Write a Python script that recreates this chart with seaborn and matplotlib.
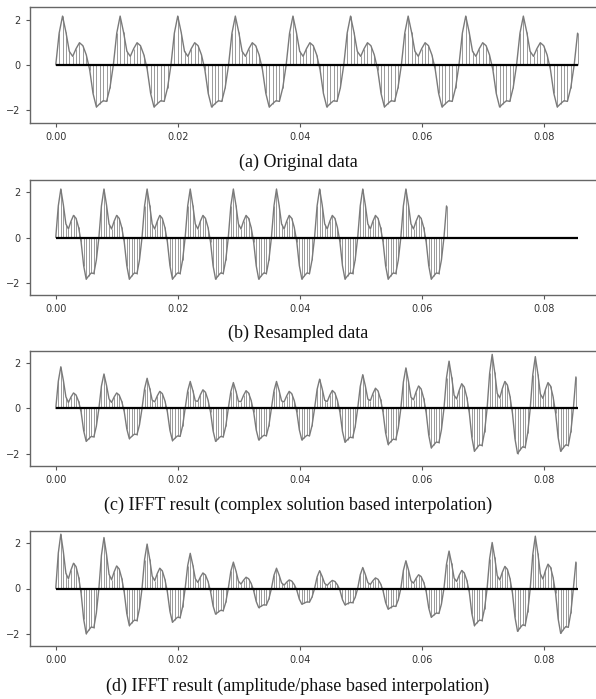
import numpy as np
import pandas as pd
import matplotlib
matplotlib.use("Agg")
import matplotlib.pyplot as plt
import seaborn as sns

# --- data ---
# one period of the original waveform, 17 samples
period_shape = [0.0, 1.4, 2.15, 1.45, 0.6, 0.38, 0.72, 0.98, 0.85, 0.45,
                -0.2, -1.25, -1.85, -1.7, -1.57, -1.6, -1.0]
# part of the period each sample belongs to: 0 main peak, 1 second bump, 2 trough
shape_part = [0, 0, 0, 0, 0, 1, 1, 1, 1, 1, 2, 2, 2, 2, 2, 2, 2]

n_orig = 155           # samples in original record
dt_orig = 0.000555     # s
dt_resampled = 0.0004156
n_ifft = 206           # samples after IFFT interpolation

# IFFT results, one value per period: main peak, second bump, trough minimum
c_peak = [1.85, 1.53, 1.34, 1.2, 1.15, 1.2, 1.3, 1.5, 1.8, 2.1, 2.4, 2.3, 2.15]
c_bump = [0.69, 0.69, 0.76, 0.83, 0.79, 0.76, 0.8, 0.9, 1.0, 1.1, 1.2, 1.15]
c_trough = [-1.46, -1.34, -1.43, -1.46, -1.40, -1.4, -1.5, -1.6, -1.75, -1.9, -2.0, -1.9]

d_peak = [2.41, 2.26, 1.97, 1.56, 1.17, 0.9, 0.79, 0.93, 1.23, 1.66, 2.04, 2.32, 1.8]
d_bump = [1.12, 1.0, 0.9, 0.69, 0.5, 0.38, 0.36, 0.47, 0.61, 0.8, 0.98, 1.08]
d_trough = [-2.01, -1.65, -1.5, -1.14, -0.85, -0.7, -0.73, -0.92, -1.28, -1.65, -1.9, -1.99]

captions = [
    "(a) Original data",
    "(b) Resampled data",
    "(c) IFFT result (complex solution based interpolation)",
    "(d) IFFT result (amplitude/phase based interpolation)",
]
xticks = [0.00, 0.02, 0.04, 0.06, 0.08]
yticks = [-2, 0, 2]


def build_signal(n, peak=None, bump=None, trough=None):
    ref = [max(period_shape), period_shape[7], min(period_shape)]
    vals = []
    for i in range(n):
        k, j = divmod(i, len(period_shape))
        part = shape_part[j]
        if peak is None:
            scale = 1.0
        else:
            scale = [peak, bump, trough][part][k] / ref[part]
        vals.append(period_shape[j] * scale)
    return np.array(vals)


t_orig = np.arange(n_orig) * dt_orig
t_res = np.arange(n_orig) * dt_resampled
t_ifft = np.arange(n_ifft) * dt_resampled

panels = [
    pd.DataFrame({"t": t_orig, "v": build_signal(n_orig)}),
    pd.DataFrame({"t": t_res, "v": build_signal(n_orig)}),
    pd.DataFrame({"t": t_ifft, "v": build_signal(n_ifft, c_peak, c_bump, c_trough)}),
    pd.DataFrame({"t": t_ifft, "v": build_signal(n_ifft, d_peak, d_bump, d_trough)}),
]
t_end = t_orig[-1]

# --- plot ---
sns.set_theme(style="ticks")
plt.rcParams["font.family"] = ["DejaVu Sans"]
fig = plt.figure(figsize=(5.96, 6.99), dpi=100)

# axes boxes in pixels: (top, bottom), caption centre y
boxes = [(7, 123), (180, 295), (351, 466), (531, 646)]
cap_y = [162, 333, 505, 686]
W, H = 596, 699
left_px, right_px = 29.5, 604

for df, (top, bot), cy, cap in zip(panels, boxes, cap_y, captions):
    ax = fig.add_axes([left_px / W, 1 - bot / H, (right_px - left_px) / W, (bot - top) / H])
    ax.vlines(df["t"], 0, df["v"], color="#9a9a9a", linewidth=0.7)
    sns.lineplot(data=df, x="t", y="v", ax=ax, color="#7a7a7a", linewidth=1.0)
    ax.hlines(0, 0, t_end, color="black", linewidth=1.6, zorder=3)
    ax.set_xlim(-0.0043, 0.0898)
    ax.set_ylim(-2.55, 2.55)
    ax.set_xticks(xticks)
    ax.set_xticklabels([f"{x:.2f}" for x in xticks])
    ax.set_yticks(yticks)
    ax.set_yticklabels(["\u22122", "0", "2"])
    ax.set_xlabel("")
    ax.set_ylabel("")
    ax.tick_params(labelsize=7, colors="#555555", labelcolor="#333333", length=3, width=0.8)
    for s in ax.spines.values():
        s.set_color("#666666")
        s.set_linewidth(1.0)
    fig.text(0.5, 1 - cy / H, cap, ha="center", va="center",
             fontsize=13, family=["Liberation Serif", "DejaVu Serif"], color="#111111")

fig.savefig("out.png", dpi=100)
